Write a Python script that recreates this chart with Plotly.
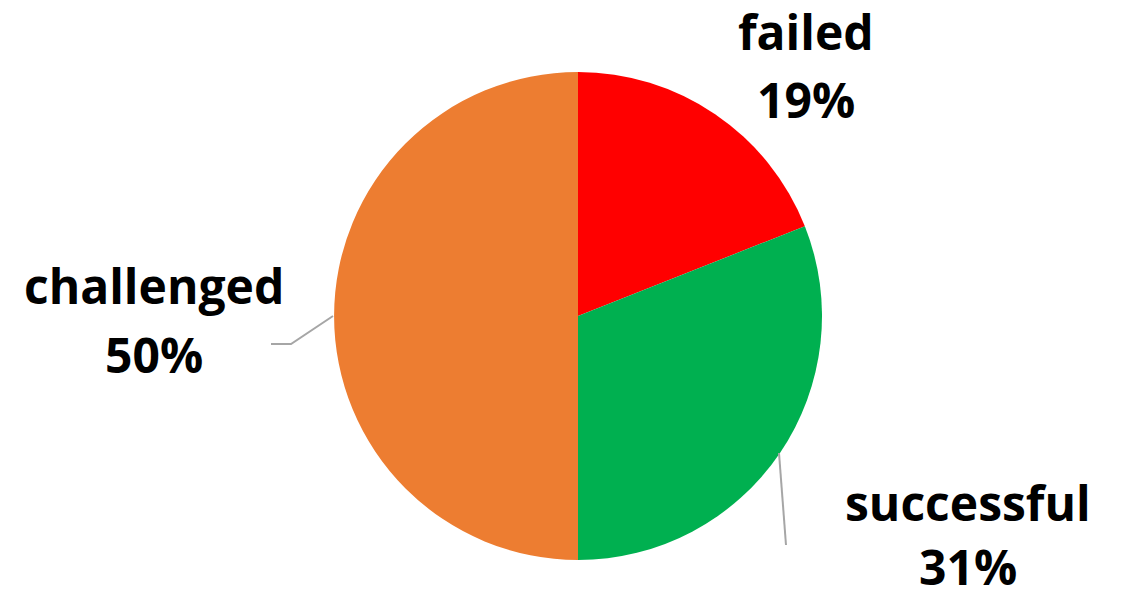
import plotly.graph_objects as go

labels = ["failed", "successful", "challenged"]
values = [19, 31, 50]
colors = ["#FF0000", "#00B050", "#ED7D31"]

W, H = 1124, 597
cx, cy, r = 578, 316, 244

fig = go.Figure(go.Pie(
    labels=labels, values=values, sort=False, direction="clockwise", rotation=0,
    marker=dict(colors=colors, line=dict(width=0)),
    textinfo="none", hoverinfo="label+percent",
    domain=dict(x=[(cx - r) / W, (cx + r) / W], y=[(H - cy - r) / H, (H - cy + r) / H]),
    showlegend=False,
))

# label positions (pixels): name line center, percent line center
label_pos = {"failed": (806, 31, 100), "successful": (968, 503, 566), "challenged": (154, 285, 355)}
font = dict(family="Open Sans", size=48, color="black")
ann = []
for lab, val in zip(labels, values):
    x, y1, y2 = label_pos[lab]
    ann.append(dict(x=x / W, y=1 - y1 / H, xref="paper", yref="paper", text=f"<b>{lab}</b>",
                    showarrow=False, xanchor="center", yanchor="middle", font=font))
    ann.append(dict(x=x / W, y=1 - y2 / H, xref="paper", yref="paper", text=f"<b>{val}%</b>",
                    showarrow=False, xanchor="center", yanchor="middle", font=font))

def path(pts):
    return "M " + " L ".join(f"{x / W},{1 - y / H}" for x, y in pts)

shapes = [
    dict(type="path", xref="paper", yref="paper", path=path([(333, 316), (291, 344), (271, 344)]),
         line=dict(color="#A6A6A6", width=2)),
    dict(type="path", xref="paper", yref="paper", path=path([(779, 453), (786, 545)]),
         line=dict(color="#A6A6A6", width=2)),
]

fig.update_layout(width=W, height=H, margin=dict(l=0, r=0, t=0, b=0),
                  paper_bgcolor="white", plot_bgcolor="white",
                  annotations=ann, shapes=shapes)
fig.write_html("out.html", config={"displayModeBar": False},
               post_script="document.body.style.margin='0';document.body.style.overflow='hidden';")
